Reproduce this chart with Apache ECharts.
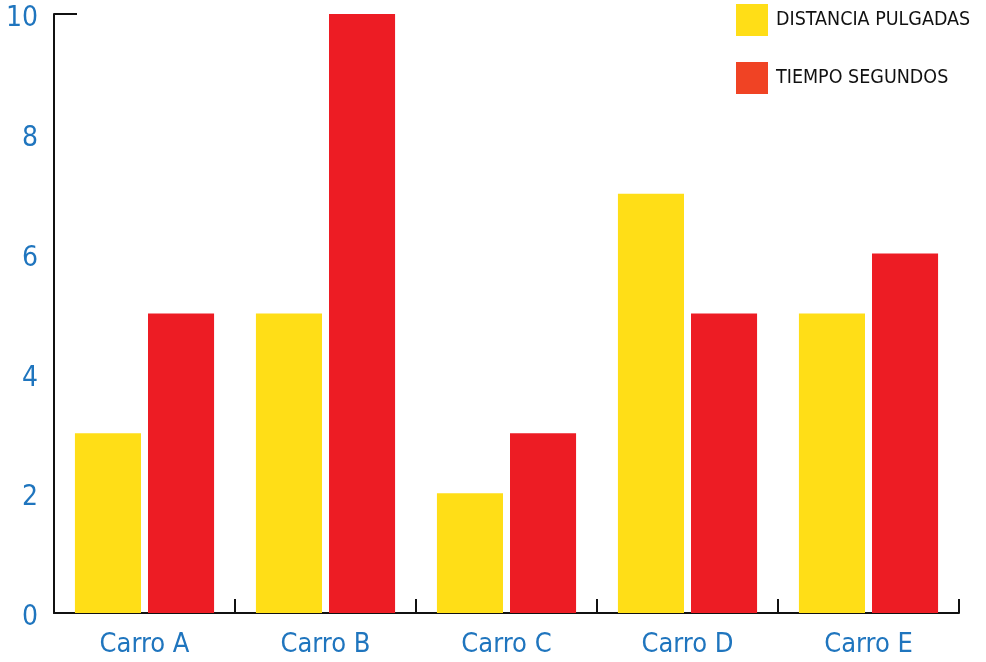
<!DOCTYPE html>
<html>
<head>
<meta charset="utf-8">
<script src="https://cdn.jsdelivr.net/npm/echarts@6/dist/echarts.min.js"></script>
<style>
  html, body { margin: 0; padding: 0; background: #fff; }
  #chart { width: 986px; height: 662px; }
</style>
</head>
<body>
<div id="chart"></div>
<script>
// datos
const categories = ['Carro A', 'Carro B', 'Carro C', 'Carro D', 'Carro E'];
const distancia = [3, 5, 2, 7, 5];
const tiempo = [5, 10, 3, 5, 6];
const yTicks = [0, 2, 4, 6, 8, 10];

const font = '"Liberation Sans Narrow", "DejaVu Sans Condensed", "Roboto", sans-serif';
const chart = echarts.init(document.getElementById('chart'));

const option = {
    backgroundColor: '#fff',
    animation: false,
    grid: { left: 54, right: 27, top: 14, bottom: 49 },
    legend: {
        orient: 'vertical',
        left: 731,
        top: -1,
        itemWidth: 32,
        itemHeight: 32,
        itemGap: 26,
        icon: 'rect',
        textStyle: { fontFamily: font, fontSize: 19.5, color: '#111', padding: [0, 0, 0, 3] },
        data: [
            { name: 'DISTANCIA PULGADAS', itemStyle: { color: '#FFDE17' } },
            { name: 'TIEMPO SEGUNDOS', itemStyle: { color: '#F04324' } }
        ]
    },
    xAxis: {
        type: 'category',
        data: categories,
        axisLine: { lineStyle: { color: '#111', width: 2 } },
        axisTick: { show: true, inside: true, length: 14, lineStyle: { color: '#111', width: 2 } },
        axisLabel: { fontFamily: font, fontSize: 27, color: '#1F75BE', margin: 18 }
    },
    yAxis: {
        type: 'value',
        min: yTicks[0],
        max: yTicks[yTicks.length - 1],
        interval: 2,
        axisLine: { show: true, lineStyle: { color: '#111', width: 2 } },
        axisTick: { show: false },
        splitLine: { show: false },
        axisLabel: {
            fontFamily: font, fontSize: 28, color: '#1F75BE', margin: 16,
            verticalAlign: 'top', lineHeight: 10
        }
    },
    series: [
        {
            name: 'DISTANCIA PULGADAS',
            type: 'bar',
            data: distancia,
            barWidth: '36.5%',
            barGap: '10.6%',
            itemStyle: { color: '#FFDE17' }
        },
        {
            name: 'TIEMPO SEGUNDOS',
            type: 'bar',
            data: tiempo,
            barWidth: '36.5%',
            itemStyle: { color: '#ED1C24' }
        }
    ]
};
chart.setOption(option);

// pequeño remate horizontal en la punta del eje Y
const yTop = chart.convertToPixel({ gridIndex: 0 }, [0, yTicks[yTicks.length - 1]]);
const gridRect = chart.getModel().getComponent('grid', 0).coordinateSystem.getRect();
chart.setOption({
    graphic: [{
        type: 'line',
        shape: { x1: gridRect.x, y1: yTop[1], x2: gridRect.x + 23, y2: yTop[1] },
        style: { stroke: '#111', lineWidth: 2 }
    }]
});
</script>
</body>
</html>
